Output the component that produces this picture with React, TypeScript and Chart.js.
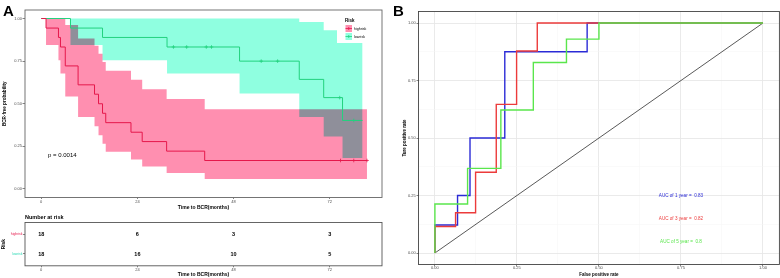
import React, { useEffect, useRef } from 'react';
import { Chart, registerables } from 'chart.js';

// plugin that lets a dataset (incl. its fill) be drawn with a blend mode; registered before Filler
const blendPlugin = {
  id: 'blendMode',
  beforeDatasetDraw(chart: any, args: any) {
    const ds = chart.data.datasets[args.index];
    if (ds && ds.blend) {
      chart.ctx.save();
      chart.ctx.globalCompositeOperation = ds.blend;
    }
  },
  afterDatasetDraw(chart: any, args: any) {
    const ds = chart.data.datasets[args.index];
    if (ds && ds.blend) chart.ctx.restore();
  },
};
Chart.register(blendPlugin as any);
Chart.register(...registerables);

const FONT = "'Liberation Sans', Arial, Helvetica, sans-serif";
Chart.defaults.font.family = FONT;

// ---------------- Panel A: Kaplan-Meier ----------------
const riskGroups = ['highrisk', 'lowrisk'];
const timeTicks = [0, 24, 48, 72];
const survTicks = [0, 0.25, 0.5, 0.75, 1];

const highTimes = [0, 1.2, 4.3, 4.8, 6.0, 9.2, 13.3, 14.3, 15.3, 16.1, 22.4, 25.2, 31.3, 40.8, 81.3];
const highSurv = [1, 0.944, 0.889, 0.833, 0.722, 0.611, 0.556, 0.5, 0.444, 0.389, 0.333, 0.278, 0.222, 0.167, 0.167];
const highUpper = [1, 1, 1, 1, 0.962, 0.883, 0.84, 0.794, 0.745, 0.694, 0.641, 0.585, 0.528, 0.468, 0.468];
const highLower = [1, 0.844, 0.755, 0.678, 0.542, 0.423, 0.368, 0.315, 0.265, 0.218, 0.173, 0.132, 0.094, 0.059, 0.059];
const highCensorTimes = [74.7, 78.0, 81.3];
const highCensorSurv = [0.167, 0.167, 0.167];

const lowTimes = [0, 7.3, 15.3, 31.4, 49.5, 64.4, 70.5, 75.2, 80.2];
const lowSurv = [1, 0.944, 0.889, 0.833, 0.75, 0.643, 0.536, 0.402, 0.402];
const lowUpper = [1, 1, 1, 1, 1, 0.979, 0.931, 0.887, 0.887];
const lowLower = [1, 0.844, 0.755, 0.678, 0.56, 0.422, 0.308, 0.182, 0.182];
const lowCensorTimes = [33.0, 36.3, 41.2, 42.5, 54.9, 59.0, 74.5, 78.0];
const lowCensorSurv = [0.833, 0.833, 0.833, 0.833, 0.75, 0.75, 0.536, 0.402];

const pValueText = 'p = 0.0014';

// risk table
const tableTimes = [0, 24, 48, 72];
const highAtRisk = [18, 6, 3, 3];
const lowAtRisk = [18, 16, 10, 5];

// ---------------- Panel B: ROC ----------------
const rocTicks = [0, 0.125, 0.25, 0.375, 0.5, 0.625, 0.75, 0.875, 1];
const rocMajor = [0, 0.25, 0.5, 0.75, 1];
const blueFpr = [0, 0, 0.069, 0.107, 0.213, 0.464, 1];
const blueTpr = [0, 0.122, 0.25, 0.5, 0.875, 1, 1];
const redFpr = [0, 0, 0.063, 0.124, 0.187, 0.249, 0.312, 1];
const redTpr = [0, 0.115, 0.175, 0.351, 0.646, 0.878, 1, 1];
const greenFpr = [0, 0, 0.0996, 0.201, 0.3, 0.401, 0.5, 1];
const greenTpr = [0, 0.213, 0.368, 0.622, 0.828, 0.93, 1, 1];
const diagFpr = [0, 1];
const diagTpr = [0, 1];
const aucLabels = ['AUC of 1 year =  0.83', 'AUC of 3 year =  0.82', 'AUC of 5 year =  0.8'];

// colours
const RED = '#E5184B';
const RED_BAND = '#FF8FB0';
const TEAL = '#22D27E';
const TEAL_BAND = '#8FFFE0';
const TEAL_LABEL = '#2ED9B5';
const ROC_BLUE = '#2B2BD6';
const ROC_RED = '#EC3B3B';
const ROC_GREEN = '#5AE64C';
const TICK_TXT = '#4d4d4d';

const pts = (xs: number[], ys: number[]) => xs.map((x, i) => ({ x, y: ys[i] }));

const strokeFrame = (chart: any, color: string, width: number) => {
  const { ctx, chartArea: a } = chart;
  ctx.save();
  ctx.strokeStyle = color;
  ctx.lineWidth = width;
  ctx.strokeRect(a.left, a.top, a.right - a.left, a.bottom - a.top);
  ctx.restore();
};

const KM_MIN = -4.05;
const KM_MAX = 85.05;

const timeAxis = (height: number, tickPad: number, titlePadBottom: number) => ({
  type: 'linear',
  min: KM_MIN,
  max: KM_MAX,
  afterBuildTicks: (s: any) => {
    s.ticks = timeTicks.map((v) => ({ value: v }));
  },
  afterFit: (s: any) => {
    s.height = height;
  },
  border: { display: false },
  grid: { display: true, drawOnChartArea: false, drawTicks: true, tickLength: 1.5, color: '#333', tickWidth: 0.6 },
  ticks: { autoSkip: false, maxRotation: 0, padding: tickPad, font: { size: 4 }, color: TICK_TXT },
  title: {
    display: true,
    text: 'Time to BCR(months)',
    color: '#000',
    font: { size: 5, weight: 'bold' },
    padding: { top: 0, bottom: titlePadBottom },
  },
});

function KMPlot() {
  const ref = useRef<HTMLCanvasElement>(null);
  useEffect(() => {
    const band = { borderWidth: 0, borderColor: 'rgba(0,0,0,0)', pointRadius: 0, stepped: 'before' };
    const decor = {
      id: 'kmDecor',
      afterDatasetsDraw(chart: any) {
        const { ctx, chartArea: a, scales } = chart;
        ctx.save();
        // p value
        ctx.fillStyle = '#000';
        ctx.font = `6px ${FONT}`;
        ctx.textAlign = 'left';
        ctx.textBaseline = 'middle';
        ctx.fillText(pValueText, scales.x.getPixelForValue(1.7), scales.y.getPixelForValue(0.196));
        // legend
        const lx = a.right - 45;
        const ly = a.top + 2;
        ctx.fillStyle = '#fff';
        ctx.fillRect(lx, ly, 43, 31);
        ctx.fillStyle = '#000';
        ctx.font = `bold 4.5px ${FONT}`;
        ctx.fillText('Risk', lx + 8, ly + 8.5);
        const keys = [
          { fill: RED_BAND, line: RED },
          { fill: TEAL_BAND, line: TEAL },
        ];
        keys.forEach((k, i) => {
          const ky = ly + 13 + i * 8;
          ctx.fillStyle = k.fill;
          ctx.fillRect(lx + 8.5, ky, 6.5, 7);
          ctx.strokeStyle = k.line;
          ctx.lineWidth = 0.8;
          ctx.beginPath();
          ctx.moveTo(lx + 8.5, ky + 3.5);
          ctx.lineTo(lx + 15, ky + 3.5);
          ctx.moveTo(lx + 11.75, ky + 2);
          ctx.lineTo(lx + 11.75, ky + 5);
          ctx.stroke();
          ctx.fillStyle = '#000';
          ctx.font = `3.6px ${FONT}`;
          ctx.fillText(riskGroups[i], lx + 17, ky + 3.6);
        });
        ctx.restore();
      },
      afterDraw(chart: any) {
        strokeFrame(chart, '#666', 0.9);
        const { ctx } = chart;
        ctx.save();
        ctx.fillStyle = '#000';
        ctx.font = `bold 15px ${FONT}`;
        ctx.textAlign = 'left';
        ctx.textBaseline = 'alphabetic';
        ctx.fillText('A', 3, 15.5);
        ctx.restore();
      },
    };
    const chart = new Chart(ref.current as HTMLCanvasElement, {
      type: 'line',
      data: {
        datasets: [
          { label: 'highrisk', data: pts(highTimes, highSurv), borderColor: RED, borderWidth: 1, pointRadius: 0, stepped: 'before', fill: false },
          { label: 'lowrisk', data: pts(lowTimes, lowSurv), borderColor: TEAL, borderWidth: 1, pointRadius: 0, stepped: 'before', fill: false },
          { label: 'highrisk censored', data: pts(highCensorTimes, highCensorSurv), showLine: false, pointStyle: 'cross', pointRadius: 1.8, pointBorderColor: RED, pointBorderWidth: 0.8, borderColor: RED },
          { label: 'lowrisk censored', data: pts(lowCensorTimes, lowCensorSurv), showLine: false, pointStyle: 'cross', pointRadius: 1.8, pointBorderColor: TEAL, pointBorderWidth: 0.8, borderColor: TEAL },
          { label: 'lowrisk upper', data: pts(lowTimes, lowUpper), ...band, fill: '+1', backgroundColor: TEAL_BAND, blend: 'multiply' },
          { label: 'lowrisk lower', data: pts(lowTimes, lowLower), ...band, fill: false },
          { label: 'highrisk upper', data: pts(highTimes, highUpper), ...band, fill: '+1', backgroundColor: RED_BAND },
          { label: 'highrisk lower', data: pts(highTimes, highLower), ...band, fill: false },
        ] as any,
      },
      options: {
        responsive: false,
        animation: false,
        devicePixelRatio: 1,
        layout: { padding: { left: 0, top: 10, right: 8, bottom: 0 } },
        plugins: { legend: { display: false }, tooltip: { enabled: false } },
        scales: {
          x: timeAxis(14.5, 0.3, 1) as any,
          y: {
            type: 'linear',
            min: -0.05,
            max: 1.05,
            afterBuildTicks: (s: any) => {
              s.ticks = survTicks.map((v) => ({ value: v }));
            },
            afterFit: (s: any) => {
              s.width = 25;
            },
            border: { display: false },
            grid: { display: true, drawOnChartArea: false, drawTicks: true, tickLength: 2.5, color: '#333', tickWidth: 0.6 },
            ticks: { autoSkip: false, padding: 0.5, font: { size: 4 }, color: TICK_TXT, callback: (v: any) => Number(v).toFixed(2) },
            title: { display: true, text: 'BCR-free probability', color: '#000', font: { size: 4.6, weight: 'bold' }, padding: { top: 2, bottom: 0 } },
          },
        },
      },
      plugins: [decor],
    } as any);
    return () => chart.destroy();
  }, []);
  return <canvas ref={ref} width={390} height={212} style={{ position: 'absolute', left: 0, top: 0, width: 390, height: 212 }} />;
}

function RiskTable() {
  const ref = useRef<HTMLCanvasElement>(null);
  useEffect(() => {
    const tablePlugin = {
      id: 'riskTable',
      afterDatasetsDraw(chart: any) {
        const { ctx, chartArea: a } = chart;
        ctx.save();
        ctx.fillStyle = '#000';
        ctx.font = `bold 5.5px ${FONT}`;
        ctx.textAlign = 'center';
        ctx.textBaseline = 'middle';
        chart.data.datasets.forEach((ds: any, di: number) => {
          const meta = chart.getDatasetMeta(di);
          meta.data.forEach((el: any, i: number) => ctx.fillText(String(ds.data[i].n), el.x, el.y));
        });
        ctx.textAlign = 'left';
        ctx.fillText('Number at risk', a.left, a.top - 5.5);
        ctx.restore();
        strokeFrame(chart, '#555', 0.9);
      },
    };
    const chart = new Chart(ref.current as HTMLCanvasElement, {
      type: 'scatter',
      data: {
        datasets: [
          { label: riskGroups[0], data: tableTimes.map((t, i) => ({ x: t, y: 1, n: highAtRisk[i] })), pointRadius: 0 },
          { label: riskGroups[1], data: tableTimes.map((t, i) => ({ x: t, y: 2, n: lowAtRisk[i] })), pointRadius: 0 },
        ] as any,
      },
      options: {
        responsive: false,
        animation: false,
        devicePixelRatio: 1,
        layout: { padding: { left: 0, top: 12.5, right: 8, bottom: 0 } },
        plugins: { legend: { display: false }, tooltip: { enabled: false } },
        scales: {
          x: timeAxis(12.2, 0.3, 0.3) as any,
          y: {
            type: 'linear',
            reverse: true,
            min: 0.4,
            max: 2.6,
            afterBuildTicks: (s: any) => {
              s.ticks = [1, 2].map((v) => ({ value: v }));
            },
            afterFit: (s: any) => {
              s.width = 25;
            },
            border: { display: false },
            grid: { display: true, drawOnChartArea: false, drawTicks: true, tickLength: 2, color: '#333', tickWidth: 0.6 },
            ticks: {
              autoSkip: false,
              padding: 0.5,
              font: { size: 3.4 },
              color: (c: any) => (c.index === 0 ? RED : TEAL_LABEL),
              callback: (_v: any, i: number) => riskGroups[i],
            },
            title: { display: true, text: 'Risk', color: '#000', font: { size: 4.8, weight: 'bold' }, padding: { top: 1, bottom: 0 } },
          },
        },
      },
      plugins: [tablePlugin],
    } as any);
    return () => chart.destroy();
  }, []);
  return <canvas ref={ref} width={390} height={68} style={{ position: 'absolute', left: 0, top: 210, width: 390, height: 68 }} />;
}

const isMajor = (v: any) => rocMajor.some((m) => Math.abs(m - Number(v)) < 1e-9);

const rocAxis = (title: string, extra: any) => ({
  type: 'linear',
  min: -0.05,
  max: 1.05,
  afterBuildTicks: (s: any) => {
    s.ticks = rocTicks.map((v) => ({ value: v }));
  },
  border: { display: false },
  grid: {
    drawTicks: true,
    tickLength: 2,
    tickWidth: 0.6,
    color: (c: any) => (c.tick && isMajor(c.tick.value) ? '#E8E8E8' : '#F4F4F4'),
    lineWidth: (c: any) => (c.tick && isMajor(c.tick.value) ? 0.9 : 0.5),
    tickColor: (c: any) => (c.tick && isMajor(c.tick.value) ? '#333' : 'rgba(0,0,0,0)'),
  },
  ticks: {
    autoSkip: false,
    maxRotation: 0,
    font: { size: 4 },
    color: TICK_TXT,
    callback: (v: any) => (isMajor(v) ? Number(v).toFixed(2) : ''),
  },
  title: { display: true, text: title, color: '#000', font: { size: 4.5, weight: 'bold' } },
  ...extra,
});

function RocPlot() {
  const ref = useRef<HTMLCanvasElement>(null);
  useEffect(() => {
    const rocPlugin = {
      id: 'rocDecor',
      afterDatasetsDraw(chart: any) {
        const { ctx, scales } = chart;
        ctx.save();
        ctx.font = `4.6px ${FONT}`;
        ctx.textAlign = 'center';
        ctx.textBaseline = 'middle';
        const colors = [ROC_BLUE, ROC_RED, ROC_GREEN];
        const ys = [0.25, 0.15, 0.05];
        aucLabels.forEach((t, i) => {
          ctx.fillStyle = colors[i];
          ctx.fillText(t, scales.x.getPixelForValue(0.75), scales.y.getPixelForValue(ys[i]));
        });
        ctx.restore();
      },
      afterDraw(chart: any) {
        strokeFrame(chart, '#444', 0.9);
        const { ctx } = chart;
        ctx.save();
        ctx.fillStyle = '#000';
        ctx.font = `bold 15px ${FONT}`;
        ctx.textAlign = 'left';
        ctx.textBaseline = 'alphabetic';
        ctx.fillText('B', 3, 15.5);
        ctx.restore();
      },
    };
    const line = { borderWidth: 1.4, pointRadius: 0, stepped: 'before', fill: false };
    const chart = new Chart(ref.current as HTMLCanvasElement, {
      type: 'line',
      data: {
        datasets: [
          { label: 'AUC of 5 year', data: pts(greenFpr, greenTpr), borderColor: ROC_GREEN, ...line },
          { label: 'AUC of 3 year', data: pts(redFpr, redTpr), borderColor: ROC_RED, ...line },
          { label: 'AUC of 1 year', data: pts(blueFpr, blueTpr), borderColor: ROC_BLUE, ...line },
          { label: 'reference', data: pts(diagFpr, diagTpr), borderColor: '#111', borderWidth: 0.7, pointRadius: 0, fill: false },
        ] as any,
      },
      options: {
        responsive: false,
        animation: false,
        devicePixelRatio: 1,
        layout: { padding: { left: 0, top: 11.5, right: 0.6, bottom: 0 } },
        plugins: { legend: { display: false }, tooltip: { enabled: false } },
        scales: {
          x: rocAxis('False positive rate', {
            afterFit: (s: any) => {
              s.height = 13.5;
            },
            ticks: {
              autoSkip: false,
              maxRotation: 0,
              padding: -0.8,
              font: { size: 4 },
              color: TICK_TXT,
              callback: (v: any) => (isMajor(v) ? Number(v).toFixed(2) : ''),
            },
            title: { display: true, text: 'False positive rate', color: '#000', font: { size: 4.5, weight: 'bold' }, padding: { top: 0, bottom: 1 } },
          }) as any,
          y: rocAxis('Ture positive rate', {
            afterFit: (s: any) => {
              s.width = 28.5;
            },
            ticks: {
              autoSkip: false,
              padding: 0.8,
              font: { size: 4 },
              color: TICK_TXT,
              callback: (v: any) => (isMajor(v) ? Number(v).toFixed(2) : ''),
            },
            title: { display: true, text: 'Ture positive rate', color: '#000', font: { size: 4.5, weight: 'bold' }, padding: { top: 12.3, bottom: 0 } },
          }) as any,
        },
      },
      plugins: [rocPlugin],
    } as any);
    return () => chart.destroy();
  }, []);
  return <canvas ref={ref} width={390} height={278} style={{ position: 'absolute', left: 390, top: 0, width: 390, height: 278 }} />;
}

export default function App() {
  return (
    <div style={{ position: 'fixed', left: 0, top: 0, width: 780, height: 278, background: '#fff', overflow: 'hidden' }}>
      <KMPlot />
      <RiskTable />
      <RocPlot />
    </div>
  );
}
